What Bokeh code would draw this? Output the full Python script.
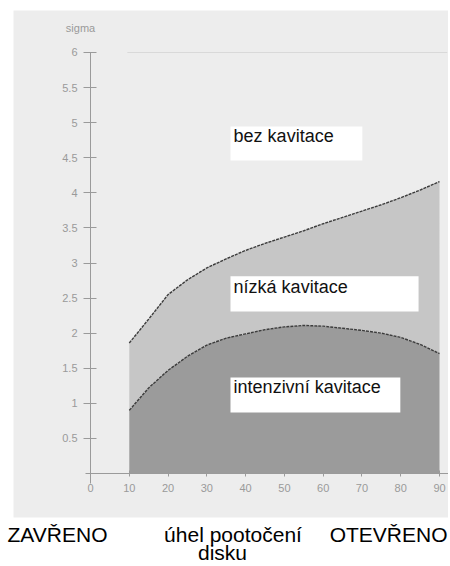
from bokeh.plotting import figure
from bokeh.models import Range1d, FixedTicker, NumeralTickFormatter, BoxAnnotation
from bokeh.embed import file_html
from bokeh.resources import INLINE
from bokeh.core.properties import value

# ---- data ----
angles = [10, 15, 20, 25, 30, 35, 40, 45, 50, 55, 60, 65, 70, 75, 80, 85, 90]
upper = [1.86, 2.20, 2.55, 2.76, 2.93, 3.06, 3.18, 3.28, 3.37, 3.46, 3.56, 3.65, 3.74, 3.83, 3.93, 4.04, 4.16]
lower = [0.90, 1.22, 1.47, 1.67, 1.83, 1.93, 1.99, 2.05, 2.09, 2.11, 2.10, 2.07, 2.04, 2.00, 1.94, 1.84, 1.71]
x_ticks = [0, 10, 20, 30, 40, 50, 60, 70, 80, 90]
y_ticks = [0.5, 1, 1.5, 2, 2.5, 3, 3.5, 4, 4.5, 5, 5.5, 6]
region_labels = ["bez kavitace", "nízká kavitace", "intenzivní kavitace"]
y_title = "sigma"
caption_parts = ["ZAVŘENO", "úhel pootočení", "OTEVŘENO"]
caption_line2 = "disku"

FONT = "Liberation Sans"
PAPER = "#ededed"
GREY_TXT = "#9a9a9a"

# frame covers the whole canvas (~70.17 px per sigma unit, ~3.878 px per degree);
# axes are pinned at the data origin
p = figure(width=448, height=566, x_range=Range1d(-23.21, 92.32), y_range=Range1d(-1.325, 6.741),
           output_backend="svg", toolbar_location=None, min_border=0)
p.background_fill_color = "white"
p.border_fill_color = "white"
p.outline_line_color = None
p.add_layout(BoxAnnotation(left=-19.86, right=100, top=6.598, bottom=-0.627,
                           fill_color=PAPER, fill_alpha=1, line_color=None, level="underlay"))
p.grid.visible = False

# faint top rule at the highest tick
p.segment(x0=[9.5], x1=[92], y0=[y_ticks[-1]], y1=[y_ticks[-1]], line_color="#d9d9d9", line_width=1)

# bands
p.varea(x=angles, y1=0, y2=lower, fill_color="#9b9b9b")
p.varea(x=angles, y1=lower, y2=upper, fill_color="#c6c6c6")
p.line(angles, upper, line_color="#3c3c3c", line_width=1.4, line_dash="3 1")
p.line(angles, lower, line_color="#3c3c3c", line_width=1.4, line_dash="3 1")

# white label boxes and texts
p.quad(left=[36.1, 36.1, 36.1], right=[70.1, 84.6, 79.9],
       top=[4.945, 2.81, 1.368], bottom=[4.461, 2.31, 0.869],
       fill_color="white", line_color=None)
p.text(x=[36.9, 36.9, 36.9], y=[4.817, 2.665, 1.24], text=region_labels,
       text_font=value(FONT), text_font_size="18px", text_color="#111111",
       text_align="left", text_baseline="alphabetic")

# axes
for ax in (p.xaxis[0], p.yaxis[0]):
    ax.fixed_location = 0
    ax.axis_line_color = GREY_TXT
    ax.major_tick_line_color = GREY_TXT
    ax.minor_tick_line_color = None
    ax.major_label_text_color = GREY_TXT
    ax.major_label_text_font = FONT
    ax.major_label_text_font_size = "11px"
p.xaxis.ticker = FixedTicker(ticks=x_ticks)
p.xaxis.bounds = (-1.3, 92.3)
p.xaxis.major_tick_in = 3
p.xaxis.major_tick_out = 3
p.xaxis.major_label_standoff = 7
p.yaxis.ticker = FixedTicker(ticks=y_ticks)
p.yaxis.formatter = NumeralTickFormatter(format="0.[0]")
p.yaxis.bounds = (-0.14, 6)
p.yaxis.major_tick_in = 6
p.yaxis.major_tick_out = 7
p.yaxis.major_label_standoff = 6

# axis title
p.text(x=[-2.58], y=[6.342], text=[y_title], text_font=value(FONT), text_font_size="11px",
       text_color=GREY_TXT, text_align="center", text_baseline="middle")

# caption
cap_kw = dict(text_font=value(FONT), text_font_size="21px", text_color="black",
              text_baseline="alphabetic")
p.text(x=[-21.4], y=[-0.869], text=[caption_parts[0]], text_align="left", **cap_kw)
p.text(x=[36.75], y=[-0.869], text=[caption_parts[1]], text_align="center", **cap_kw)
p.text(x=[92.06], y=[-0.869], text=[caption_parts[2]], text_align="right", **cap_kw)
p.text(x=[34.04], y=[-1.126], text=[caption_line2], text_align="center", **cap_kw)

open("out.html", "w").write(file_html(p, INLINE))
